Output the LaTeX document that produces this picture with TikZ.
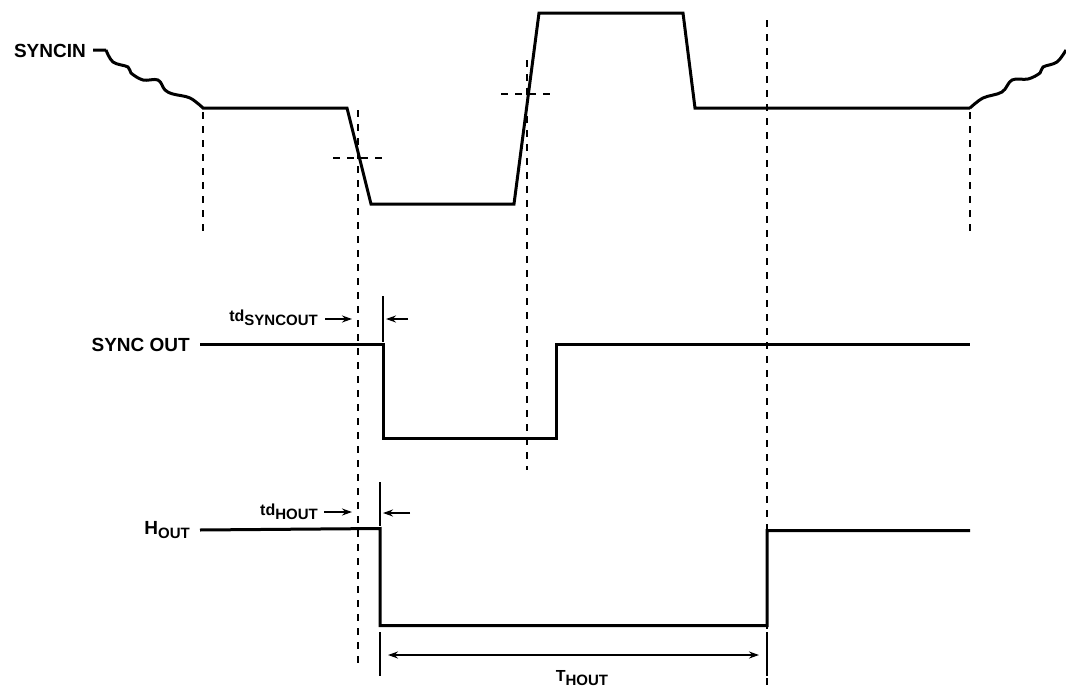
\documentclass[tikz,border=0pt]{standalone}
\usepackage{fontspec}
\setmainfont{Liberation Sans}
\usetikzlibrary{arrows.meta}
\newcommand{\lowsub}[1]{\raisebox{-4pt}{\fontsize{15}{17}\selectfont #1}}
\begin{document}
\begin{tikzpicture}[x=1pt,y=-1pt,
  wave/.style={line width=3pt,line join=miter},
  guide/.style={line width=1.5pt,dash pattern=on 7pt off 7pt},
  tick/.style={line width=1.8pt},
  lbl/.style={font=\bfseries\fontsize{19}{21}\selectfont,inner sep=0pt},
  tdlbl/.style={font=\bfseries\fontsize{16}{18}\selectfont,inner sep=0pt},
  dim/.style={line width=1.8pt,-{Stealth[length=10pt,width=7pt]}},
  dimboth/.style={line width=1.8pt,{Stealth[length=10pt,width=7pt]}-{Stealth[length=10pt,width=7pt]}}]
\useasboundingbox (0,0) rectangle (1066,688);
% labels
\node[lbl,anchor=east] (syncin) at (86,51) {SYNCIN};
\node[lbl,anchor=east] (syncout) at (190,345) {SYNC OUT};
\node[lbl,anchor=base east] (hout) at (190,534) {H\lowsub{OUT}};
\node[tdlbl,anchor=base east] (tdsync) at (318,321) {td\lowsub{SYNCOUT}};
\node[tdlbl,anchor=base east] (tdhout) at (318,515) {td\lowsub{HOUT}};
\node[tdlbl,anchor=base] (thout) at (582,681) {T\lowsub{HOUT}};
% guide lines
\draw[guide] (203,112) -- (203,232);
\draw[guide] (970,112) -- (970,232);
\draw[guide] (358,110) -- (358,668);
\draw[guide] (527,60) -- (527,470);
\draw[guide] (767,20) -- (767,688);
\draw[guide] (333,158) -- (383,158);
\draw[guide] (501,94) -- (551,94);
% SYNCIN waveform
\draw[wave] (93,50) -- (106,50) plot[smooth,tension=0.6] coordinates {(106,50) (113,62) (128,67) (131,73) (143,80) (158,80) (165,90) (173,94) (190,98) (203,108)}
  -- (347,108) -- (371,204) -- (514,204) -- (539,13) -- (683,13) -- (695,108) -- (970,108)
  plot[smooth,tension=0.6] coordinates {(970,108) (983,98) (1002,92) (1012,80) (1028,79) (1040,73) (1043,67) (1057,62) (1066,50)};
% SYNC OUT waveform
\draw[wave] (200,344.5) -- (383,344.5) -- (383,438.5) -- (556,438.5) -- (556,344.5) -- (970,344.5);
% H OUT waveform
\draw[wave] (200,530) -- (380,528.5) -- (380,625.5) -- (767,625.5) -- (767,530.5) -- (970,530.5);
% ticks
\draw[tick] (383,296) -- (383,342);
\draw[tick] (380,482) -- (380,526);
\draw[tick] (380,632) -- (380,676);
\draw[tick] (767,632) -- (767,676);
% delay arrows
\coordinate (a1s) at (325,319);
\coordinate (a1) at (352,319);
\coordinate (b1s) at (408,319);
\coordinate (b1e) at (386,319);
\draw[dim] (a1s) -- (a1);
\draw[dim] (b1s) -- (b1e);
\coordinate (a2s) at (324,512);
\coordinate (a2) at (352,512);
\coordinate (b2s) at (410,513);
\coordinate (b2e) at (383,513);
\draw[dim] (a2s) -- (a2);
\draw[dim] (b2s) -- (b2e);
% period arrow
\coordinate (p1) at (388,655);
\coordinate (p2) at (759,655);
\draw[dimboth] (p1) -- (p2);
\end{tikzpicture}
\end{document}
